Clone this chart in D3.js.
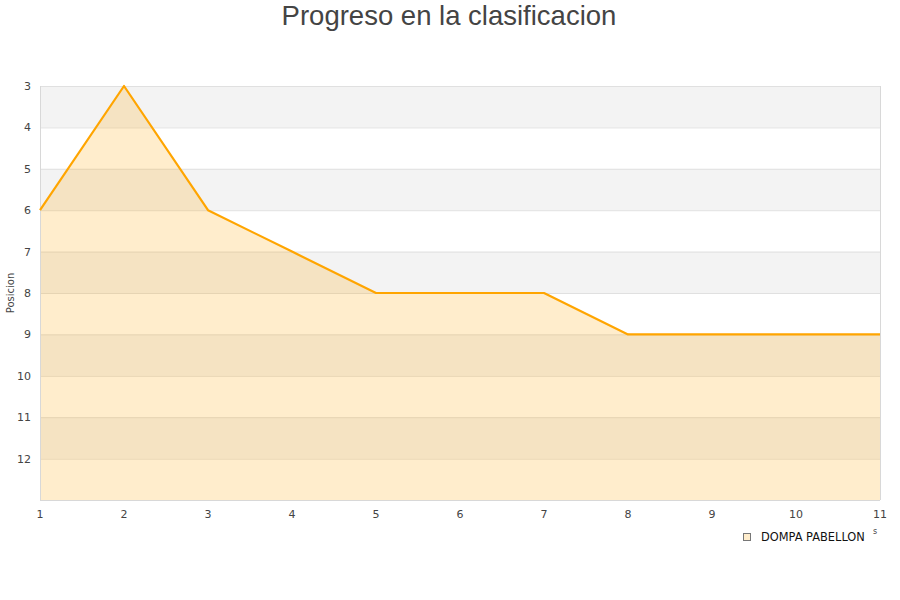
<!DOCTYPE html>
<html><head><meta charset="utf-8">
<script src="https://cdn.jsdelivr.net/npm/d3@7"></script>
<style>body{margin:0;background:#fff}</style>
</head><body>
<svg id="c" width="900" height="600"></svg>
<script>
const jornadas = [1,2,3,4,5,6,7,8,9,10,11];
const posiciones = [6,3,6,7,8,8,8,9,9,9,9];
const yTicks = [3,4,5,6,7,8,9,10,11,12];
const seriesName = "DOMPA PABELLON";
const title = "Progreso en la clasificacion";
const yTitle = "Posicion";

const svg = d3.select("#c");
const m = {l:40, r:880, t:86, b:500};
const x = d3.scaleLinear().domain([1,11]).range([m.l, m.r]);
const y = d3.scaleLinear().domain([3,13]).range([m.t, m.b]);

const bands = d3.range(3,13);
svg.selectAll("rect.band").data(bands).enter().append("rect")
  .attr("x", m.l).attr("width", m.r-m.l)
  .attr("y", d=>y(d)).attr("height", d=>y(d+1)-y(d))
  .attr("fill", d=> (d%2===1) ? "#f3f3f3" : "#ffffff");

svg.selectAll("line.grid").data(d3.range(3,14)).enter().append("line")
  .attr("x1", m.l).attr("x2", m.r)
  .attr("y1", d=>y(d)+0.5).attr("y2", d=>y(d)+0.5)
  .attr("stroke", "#e0e0e0").attr("stroke-width", 1);

const pts = jornadas.map((j,i)=>[j, posiciones[i]]);
svg.append("path").datum(pts)
  .attr("d", d3.area().x(d=>x(d[0])).y0(y(13)).y1(d=>y(d[1])))
  .attr("fill", "#ffa500").attr("fill-opacity", 0.2);

svg.append("line").attr("x1", m.l+0.5).attr("x2", m.l+0.5).attr("y1", m.t).attr("y2", m.b)
  .attr("stroke", "#d8d8d8");
svg.append("line").attr("x1", m.r+0.5).attr("x2", m.r+0.5).attr("y1", m.t).attr("y2", m.b)
  .attr("stroke", "#d8d8d8");
svg.append("line").attr("x1", m.l).attr("x2", m.r).attr("y1", m.b+0.5).attr("y2", m.b+0.5)
  .attr("stroke", "#d8d8d8");

svg.append("path").datum(pts)
  .attr("d", d3.line().x(d=>x(d[0])).y(d=>y(d[1])))
  .attr("fill", "none").attr("stroke", "#ffa500").attr("stroke-width", 2.2)
  .attr("stroke-linejoin", "round");

svg.selectAll("text.yt").data(yTicks).enter().append("text")
  .attr("x", 31).attr("y", d=>y(d)+4)
  .attr("text-anchor", "end")
  .attr("font-family", "DejaVu Sans").attr("font-size", 11).attr("fill", "#444")
  .text(d=>d);

svg.selectAll("text.xt").data(jornadas).enter().append("text")
  .attr("x", d=>x(d)).attr("y", 518)
  .attr("text-anchor", "middle")
  .attr("font-family", "DejaVu Sans").attr("font-size", 11).attr("fill", "#444")
  .text(d=>d);

svg.append("text").attr("transform", "translate(14,293) rotate(-90)")
  .attr("text-anchor", "middle")
  .attr("font-family", "DejaVu Sans").attr("font-size", 10).attr("fill", "#444")
  .text(yTitle);

svg.append("text").attr("x", 449).attr("y", 25)
  .attr("text-anchor", "middle")
  .attr("font-family", "Liberation Sans, Arial").attr("font-size", 27.5).attr("fill", "#444")
  .text(title);

svg.append("rect").attr("x", 743.5).attr("y", 533.5).attr("width", 7).attr("height", 7)
  .attr("fill", "#ffedcc").attr("stroke", "#777");
svg.append("text").attr("x", 761).attr("y", 541)
  .attr("font-family", "DejaVu Sans").attr("font-size", 11.4).attr("fill", "#111")
  .text(seriesName);
svg.append("text").attr("x", 873).attr("y", 534)
  .attr("font-family", "DejaVu Sans").attr("font-size", 8).attr("fill", "#444")
  .text("s");
</script>
</body></html>
